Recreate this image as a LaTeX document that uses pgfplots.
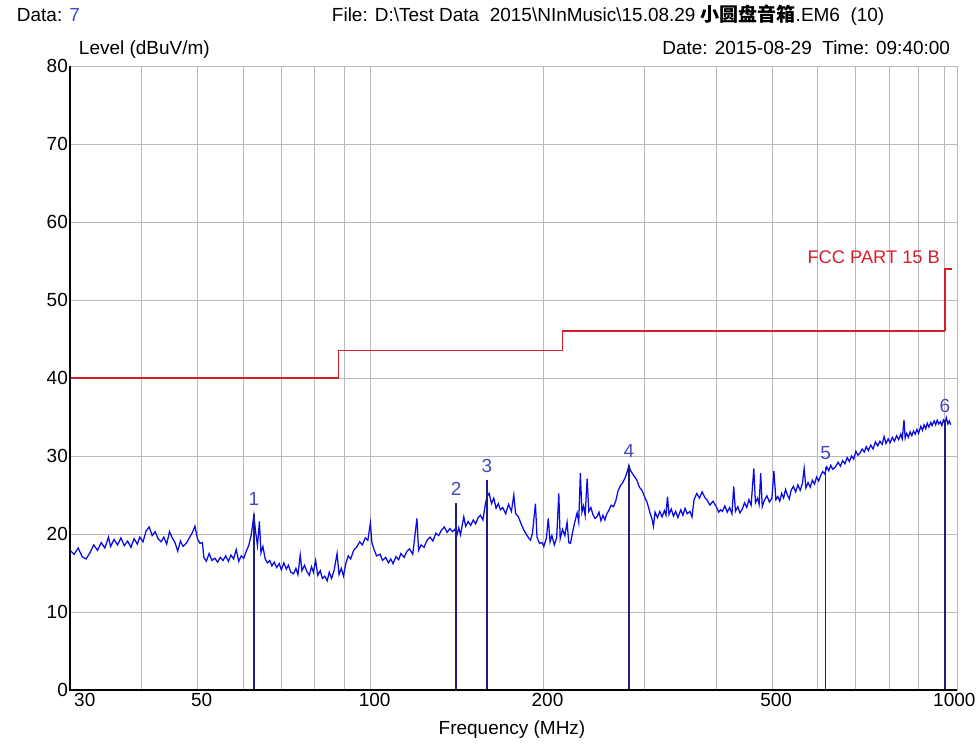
\documentclass[border=0pt]{standalone}
\usepackage{pgfplots}
\pgfplotsset{compat=1.18}
\usepackage{fontspec}
\setmainfont{Liberation Sans}
\newfontfamily\cjk{Noto Sans CJK SC}

\definecolor{trace}{RGB}{10,10,230}
\definecolor{mkline}{RGB}{30,30,130}
\definecolor{mktext}{RGB}{70,70,190}
\definecolor{limred}{RGB}{215,30,40}
\definecolor{gridgray}{RGB}{185,185,185}

\begin{document}
\begin{tikzpicture}[font=\fontsize{13.5}{15}\selectfont]
\path[use as bounding box] (-1.75,-1.425) rectangle (22.65,17.25);

\begin{axis}[
  at={(0,0)}, anchor=south west,
  scale only axis,
  width=22.175cm, height=15.6cm,
  xmode=log,
  xmin=30, xmax=1050,
  ymin=0, ymax=80,
  xtick={30,40,50,60,70,80,90,100,200,300,400,500,600,700,800,900,1000},
  xticklabels={\hphantom{00}30,,50,,,,,100,200,,,500,,,,,\hphantom{0}1000},
  ytick={0,10,20,30,40,50,60,70,80},
  minor xtick={},
  grid=major,
  major grid style={gridgray, line width=0.6pt},
  tick style={draw=none},
  axis line style={gridgray, line width=0.6pt},
  /pgf/number format/assume math mode=true,
  xticklabel style={xshift=3pt, yshift=1pt},
  yticklabel style={xshift=2pt},
  clip=false,
]

% FCC Part 15 B limit
\addplot[limred, line width=1pt, const plot] coordinates {
(30,40) (88,40) (88,43.5) (216,43.5) (216,46) (1000,46)
};
\addplot[limred, line width=1pt] coordinates {(1000,46) (1000,54) (1030,54)};

% measured level
\addplot[trace, line width=0.9pt] coordinates {
(30,17.9) (30.5,17.4) (31,18.2) (31.5,17.1) (32,16.8) (32.5,17.6) (33,18.6)
(33.5,17.9) (34,18.9) (34.5,18.2) (35,19.6) (35.3,18.4) (35.8,19.3) (36.3,18.6)
(36.8,19.5) (37.3,18.5) (37.8,19.1) (38.3,18.3) (38.8,19.4) (39.3,18.7) (39.7,19.6)
(40.2,19.0) (40.7,20.4) (41.2,20.9) (41.7,19.8) (42.2,20.3) (42.7,19.4) (43.2,19.0)
(43.7,19.6) (44.2,18.7) (44.7,20.3) (45.2,19.5) (45.7,18.9) (46.2,17.8) (46.7,19.1)
(47.2,18.4) (47.8,18.8) (48.4,19.5) (49,20.2) (49.5,21.0) (50,19.4) (50.5,18.8)
(51,18.9) (51.3,17.0) (51.8,16.5) (52.4,17.5) (53,16.6) (53.6,16.9) (54.2,16.4)
(54.8,17.0) (55.4,16.6) (56,17.2) (56.6,16.5) (57.2,17.3) (57.8,16.8) (58.4,18.0)
(59,16.5) (59.6,17.2) (60.2,16.9) (60.8,17.8) (61.4,18.5) (62,19.8) (62.7,22.4)
(63.1,20.4) (63.6,18.5) (64.1,21.6) (64.5,17.6) (65,18.4) (65.6,16.8) (66.2,16.3)
(66.8,16.6) (67.4,15.9) (68,16.4) (68.7,15.7) (69.4,16.2) (70,15.4) (70.7,16.3)
(71.4,15.5) (72,16.0) (72.7,15.1) (73.5,14.9) (74.2,15.6) (74.8,14.8) (75.5,17.3)
(76,15.3) (76.8,16.0) (77.5,15.2) (78.3,14.7) (79,15.8) (79.6,15.1) (80.3,16.6)
(81,14.7) (81.8,15.3) (82.5,14.3) (83.3,14.6) (84.1,14.0) (84.8,15.1) (85.6,14.3)
(86.5,15.4) (87.5,17.5) (88.2,14.8) (89,15.6) (89.8,14.6) (90.6,16.2) (91.5,17.2)
(92.4,16.8) (93.5,17.9) (94.8,18.4) (95.8,19.0) (96.8,18.6) (98,19.5) (99,19.2)
(100,21.4) (100.6,18.9) (101.5,18.0) (102.5,17.2) (104,17.4) (105,16.6) (106.3,17.0)
(107.5,16.3) (108.5,16.8) (109.5,16.2) (110.8,17.1) (112,16.7) (113,17.5) (114.5,17.0)
(115.8,17.8) (117,18.1) (118.5,17.4) (120.5,22.0) (121.3,17.9) (122.5,18.6) (124,18.3)
(125.5,19.2) (127,19.6) (128.5,19.1) (130,20.1) (131.5,19.8) (133,20.5) (134.5,20.9)
(136,20.2) (137.5,20.7) (139,20.3) (140.3,20.6) (141.5,19.9) (142.5,20.8) (143.5,19.9)
(145.4,22.2) (146.5,21.0) (148,21.6) (149.5,21.1) (151,21.8) (152.5,21.3) (154,22.1)
(155.4,22.4) (157,21.8) (158.5,23.8) (159.6,24.8) (161,25.2) (162.5,23.9) (164,24.6)
(165.5,23.3) (167,23.9) (168.4,23.1) (170,23.4) (172,22.6) (174,23.8) (176,22.9)
(177.7,25.0) (179,22.6) (181,22.2) (183,21.3) (185,20.5) (187,19.9) (189,19.4)
(190,19.2) (191.5,20.1) (193.8,23.9) (195,19.6) (197,18.8) (199,18.9) (200.4,18.4)
(202.5,19.5) (204,22.0) (205.5,19.0) (207,19.8) (209,18.6) (211,19.5) (212.8,25.2)
(214,19.4) (216,20.6) (218,19.8) (220,21.5) (221.5,18.9) (223,18.8) (225,20.3)
(227,21.6) (229,22.7) (230.5,21.5) (232,27.8) (233.5,22.8) (235,23.6) (236.5,22.4)
(238.4,27.1) (240,22.9) (242,23.4) (244,22.5) (246,22.0) (248,22.2) (250,22.8)
(252,21.7) (254,22.4) (256,21.8) (258,22.6) (260,23.0) (262.5,23.7) (265,23.5)
(267.5,24.3) (270,25.6) (272.5,26.2) (275,26.6) (278,27.3) (280,28.0) (281.8,28.8)
(283.5,28.2) (285.5,27.8) (288,27.4) (291,26.9) (294,26.0) (297,25.6) (300,24.8)
(303,24.1) (305,23.4) (307,22.6) (309,22.0) (311,21.0) (313,22.8) (316,22.1)
(319,22.9) (322,22.2) (325,23.0) (327,22.4) (329,24.8) (331,22.5) (334,23.2)
(337,22.3) (340,22.9) (343,22.1) (347,23.1) (350,22.4) (353,23.3) (356,22.6)
(360,22.9) (363,22.2) (366,24.4) (370,25.2) (374,24.6) (378,25.4) (382,24.7)
(386,24.3) (390,23.7) (395,24.2) (400,23.5) (404,22.8) (407,23.1) (410,22.9)
(414,23.6) (418,22.8) (422,23.4) (426,22.6) (429,26.1) (432,22.9) (436,23.5)
(440,22.7) (444,23.2) (448,24.0) (452,23.4) (456,24.4) (460,23.7) (465,28.4)
(468,24.0) (472,24.6) (475,23.8) (478,27.8) (481,23.5) (485,24.3) (490,24.9)
(495,24.1) (500,24.6) (504,28.1) (508,24.4) (512,24.8) (516,24.2) (520,25.2)
(524,24.6) (528,25.7) (532,25.0) (536,24.5) (540,25.6) (545,26.1) (550,25.4)
(555,26.3) (560,25.6) (565,26.5) (569,28.4) (573,25.9) (578,26.6) (583,26.0)
(588,26.9) (593,26.4) (598,27.3) (603,26.8) (608,27.5) (613,28.0) (618,27.7)
(623,28.6) (628,28.1) (633,28.8) (638,28.3) (645,28.6) (652,29.2) (658,28.7)
(664,29.4) (670,29.0) (676,29.8) (682,29.3) (688,30.0) (694,29.6) (700,30.6)
(706,30.1) (712,30.4) (718,30.9) (724,30.5) (730,31.2) (736,30.7) (743,31.4)
(750,30.9) (757,31.8) (764,31.3) (771,31.9) (778,31.5) (784,32.5) (790,31.6)
(797,32.2) (803,31.7) (810,32.4) (817,31.9) (824,32.6) (831,32.1) (838,32.8)
(843,32.2) (849,34.6) (853,32.3) (858,32.9) (864,32.4) (870,33.1) (876,32.6)
(882,33.2) (888,32.8) (894,33.4) (900,32.9) (908,33.8) (914,33.3) (920,34.0)
(926,33.5) (932,34.2) (938,33.7) (945,34.3) (950,33.9) (958,34.5) (964,34.0)
(970,34.6) (976,34.1) (982,34.4) (988,33.9) (994,34.6) (1000,34.2) (1006,34.9)
(1012,34.1) (1018,34.5) (1024,34.0)
};

% markers
\addplot[ycomb, mkline, line width=1pt, mark=none,
  nodes near coords, point meta=explicit symbolic,
  nodes near coords style={anchor=south, text=mktext, inner sep=0pt, yshift=5pt}]
  table[meta=lab] {
x y lab
62.7 22.6 1
141.0 24.0 2
159.6 26.9 3
281.8 28.8 4
620.0 28.6 5
1000.0 34.6 6
};

\node[anchor=east, text=limred, font=\fontsize{13}{15}\selectfont] at (axis cs:1000,55.5) {FCC PART 15 B};

\draw[black, line width=1.3pt] (rel axis cs:0,1) -- (rel axis cs:0,0) -- (rel axis cs:1,0);
\end{axis}

\node[anchor=west] at (-1.45,16.875) {Data: \textcolor{mktext}{7}};
\node[anchor=west] at (6.425,16.875) {File: D:\textbackslash Test Data\ \ 2015\textbackslash NInMusic\textbackslash 15.08.29 {\cjk\bfseries 小圆盘音箱}.EM6\ \ (10)};
\node[anchor=west] at (0.1,16.0) {Level (dBuV/m)};
\node[anchor=east] at (22.125,16.05) {Date: 2015-08-29\ \ Time: 09:40:00};
\node at (11.05,-1.0) {Frequency (MHz)};
\end{tikzpicture}
\end{document}
